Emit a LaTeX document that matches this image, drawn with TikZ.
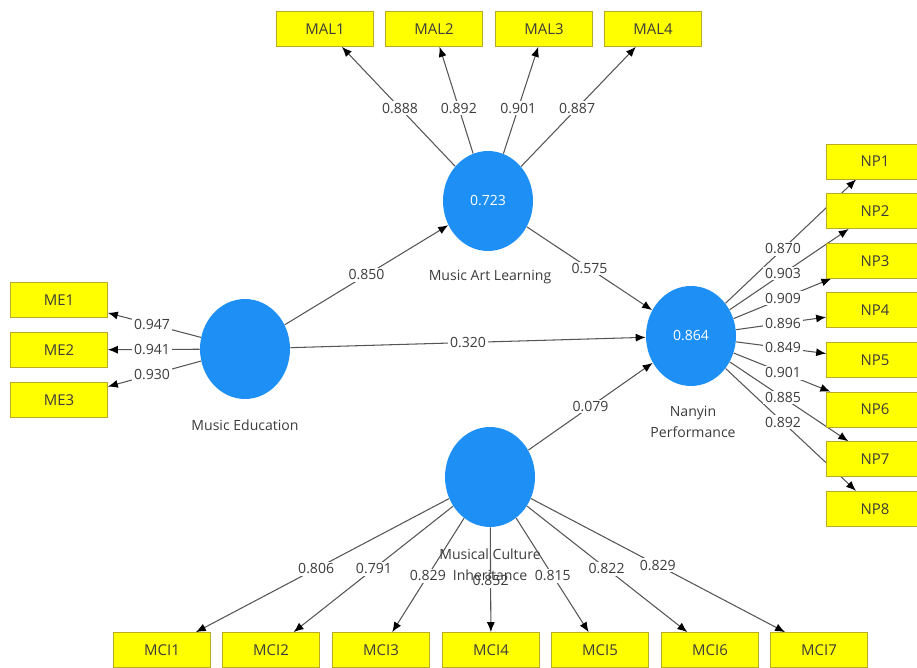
\documentclass[tikz,border=0pt]{standalone}
\usepackage{fontspec}
\setmainfont{Open Sans}
\usetikzlibrary{arrows.meta,calc,backgrounds,shapes.geometric}

\definecolor{lvblue}{RGB}{30,144,245}
\definecolor{mvyellow}{RGB}{255,255,0}
\definecolor{mvedge}{RGB}{185,170,40}
\definecolor{pathgray}{RGB}{85,85,85}
\definecolor{txtgray}{RGB}{60,60,60}

\begin{document}
\begin{tikzpicture}
	[x=0.02cm, y=-0.02cm,
	every node/.style={font=\fontsize{8}{12}\selectfont, text=txtgray},
	latent/.style={ellipse,fill=lvblue,inner sep=0pt,minimum width=1.8cm,minimum height=2cm,text=white},
	item/.style={rectangle,fill=mvyellow,draw=mvedge,inner sep=0pt,minimum width=1.94cm,minimum height=.7cm,font=\fontsize{8.5}{10}\selectfont},
	coef/.style={fill=white,inner sep=1pt},
	load/.style={draw=pathgray,line width=.6pt,-{Latex[length=2mm,width=1.6mm,color=black]}}]
	\useasboundingbox (0,0) rectangle (917,668);
	% latent variables
	\node (mal) [latent] at (488,201) {0.723};
	\node (me) [latent] at (245,349) {};
	\node (np) [latent] at (691,336) {0.864};
	\node (mci) [latent] at (490,477) {};
	% indicators
	\node (MAL1) [item] at (325,29) {MAL1};
	\node (MAL2) [item] at (434,29) {MAL2};
	\node (MAL3) [item] at (544,29) {MAL3};
	\node (MAL4) [item] at (653,29) {MAL4};
	\node (ME1) [item] at (59,300) {ME1};
	\node (ME2) [item] at (59,350) {ME2};
	\node (ME3) [item] at (59,400) {ME3};
	\node (NP1) [item] at (875,161.5) {NP1};
	\node (NP2) [item] at (875,211.1) {NP2};
	\node (NP3) [item] at (875,260.7) {NP3};
	\node (NP4) [item] at (875,310.3) {NP4};
	\node (NP5) [item] at (875,359.9) {NP5};
	\node (NP6) [item] at (875,409.5) {NP6};
	\node (NP7) [item] at (875,459.1) {NP7};
	\node (NP8) [item] at (875,508.7) {NP8};
	\node (MCI1) [item] at (162,650) {MCI1};
	\node (MCI2) [item] at (271,650) {MCI2};
	\node (MCI3) [item] at (381,650) {MCI3};
	\node (MCI4) [item] at (491,650) {MCI4};
	\node (MCI5) [item] at (600,650) {MCI5};
	\node (MCI6) [item] at (710,650) {MCI6};
	\node (MCI7) [item] at (819,650) {MCI7};
	% paths under the boxes
	\begin{pgfonlayer}{background}
	\draw [load] (me) -- (mal);
	\draw [load] (me) -- (np);
	\draw [load] (mal) -- (np);
	\draw [load] (mci) -- (np);
	\draw [load] (mal) -- (MAL1);
	\draw [load] (mal) -- (MAL2);
	\draw [load] (mal) -- (MAL3);
	\draw [load] (mal) -- (MAL4);
	\draw [load] (me) -- (ME1);
	\draw [load] (me) -- (ME2);
	\draw [load] (me) -- (ME3);
	\draw [load] (np) -- (NP1);
	\draw [load] (np) -- (NP2);
	\draw [load] (np) -- (NP3);
	\draw [load] (np) -- (NP4);
	\draw [load] (np) -- (NP5);
	\draw [load] (np) -- (NP6);
	\draw [load] (np) -- (NP7);
	\draw [load] (np) -- (NP8);
	\draw [load] (mci) -- (MCI1);
	\draw [load] (mci) -- (MCI2);
	\draw [load] (mci) -- (MCI3);
	\draw [load] (mci) -- (MCI4);
	\draw [load] (mci) -- (MCI5);
	\draw [load] (mci) -- (MCI6);
	\draw [load] (mci) -- (MCI7);
	\end{pgfonlayer}
	% coefficients
	\node (c1) [coef] at ($(me)!.5!(mal)$) {0.850};
	\node (c2) [coef] at ($(me)!.5!(np)$) {0.320};
	\node (c3) [coef] at ($(mal)!.5!(np)$) {0.575};
	\node (c4) [coef] at ($(mci)!.5!(np)$) {0.079};
	\node (lmal1) [coef] at ($(mal)!.54!(MAL1)$) {0.888};
	\node (lmal2) [coef] at ($(mal)!.54!(MAL2)$) {0.892};
	\node (lmal3) [coef] at ($(mal)!.54!(MAL3)$) {0.901};
	\node (lmal4) [coef] at ($(mal)!.54!(MAL4)$) {0.887};
	\node (lme1) [coef] at ($(me)!.5!(ME1)$) {0.947};
	\node (lme2) [coef] at ($(me)!.5!(ME2)$) {0.941};
	\node (lme3) [coef] at ($(me)!.5!(ME3)$) {0.930};
	\node (lnp1) [coef] at ($(np)!.5!(NP1)$) {0.870};
	\node (lnp2) [coef] at ($(np)!.5!(NP2)$) {0.903};
	\node (lnp3) [coef] at ($(np)!.5!(NP3)$) {0.909};
	\node (lnp4) [coef] at ($(np)!.5!(NP4)$) {0.896};
	\node (lnp5) [coef] at ($(np)!.5!(NP5)$) {0.849};
	\node (lnp6) [coef] at ($(np)!.5!(NP6)$) {0.901};
	\node (lnp7) [coef] at ($(np)!.5!(NP7)$) {0.885};
	\node (lnp8) [coef] at ($(np)!.5!(NP8)$) {0.892};
	\node (lmci1) [coef] at ($(mci)!.53!(MCI1)$) {0.806};
	\node (lmci2) [coef] at ($(mci)!.53!(MCI2)$) {0.791};
	\node (lmci3) [coef] at ($(mci)!.57!(MCI3)$) {0.829};
	\node (lmci4) [coef] at ($(mci)!.6!(MCI4)$) {0.852};
	\node (lmci5) [coef] at ($(mci)!.57!(MCI5)$) {0.815};
	\node (lmci6) [coef] at ($(mci)!.53!(MCI6)$) {0.822};
	\node (lmci7) [coef] at ($(mci)!.51!(MCI7)$) {0.829};
	% construct names
	\node (malname) at (490,277) {Music Art Learning};
	\node (mename) at (245,425) {Music Education};
	\node (npname) [align=center] at (693,422) {Nanyin\\Performance};
	\node (mciname) [align=center] at (490,565) {Musical Culture\\Inheritance};
\end{tikzpicture}
\end{document}
